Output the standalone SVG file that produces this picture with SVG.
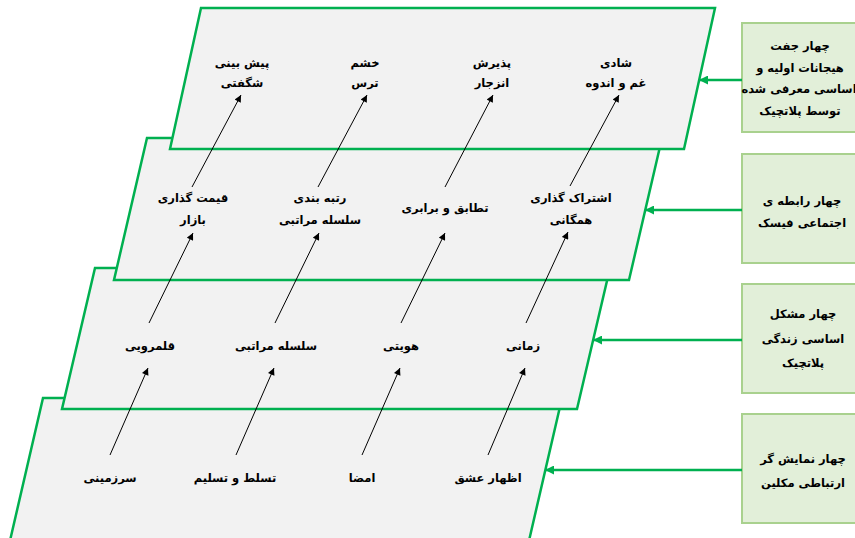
<svg xmlns="http://www.w3.org/2000/svg" width="855" height="538" viewBox="0 0 855 538">
<defs>
<style>
.layer{fill:#f2f2f2;stroke:#00b050;stroke-width:2.5;stroke-linejoin:miter}
.box{fill:#e2efd9;stroke:#a9d18e;stroke-width:2}
.lbl{font-family:"DejaVu Sans",sans-serif;font-size:11.5px;font-weight:bold;fill:#000;text-anchor:middle}
.btx{font-family:"DejaVu Sans",sans-serif;font-size:11.5px;font-weight:bold;fill:#000;text-anchor:middle}
.ar{stroke:#000;stroke-width:1;fill:none;marker-end:url(#ah)}
.gr{stroke:#00b050;stroke-width:2.5;fill:none;marker-end:url(#gh)}
</style>
<marker id="ah" viewBox="0 0 10 10" refX="10" refY="5" markerWidth="8" markerHeight="7" markerUnits="userSpaceOnUse" orient="auto">
<path d="M0,0 L10,5 L0,10 z" fill="#000"/>
</marker>
<marker id="gh" viewBox="0 0 10 10" refX="10" refY="5" markerWidth="10" markerHeight="9" markerUnits="userSpaceOnUse" orient="auto">
<path d="M0,0 L10,5 L0,10 z" fill="#00b050"/>
</marker>
</defs>

<g id="layer4">
<polygon class="layer" points="43,398 562,398 528,545 9,545"/>
<g id="l4-1"><text class="lbl" x="110" y="482">سرزمینی</text></g>
<g id="l4-2"><text class="lbl" x="235" y="482">تسلط و تسلیم</text></g>
<g id="l4-3"><text class="lbl" x="362" y="482">امضا</text></g>
<g id="l4-4"><text class="lbl" x="488" y="482">اظهار عشق</text></g>
</g>

<g id="layer3">
<polygon class="layer" points="95,268 610,268 577,409 62,409"/>
<g id="l3-1"><text class="lbl" x="150" y="350">قلمرویی</text></g>
<g id="l3-2"><text class="lbl" x="276" y="350">سلسله مراتبی</text></g>
<g id="l3-3"><text class="lbl" x="401" y="350">هویتی</text></g>
<g id="l3-4"><text class="lbl" x="523" y="350">زمانی</text></g>
</g>

<g id="layer2">
<polygon class="layer" points="147,138 662,138 629,280 114,280"/>
<g id="l2-1"><text class="lbl" x="193" y="202">قیمت گذاری</text><text class="lbl" x="193" y="224">بازار</text></g>
<g id="l2-2"><text class="lbl" x="320" y="202">رتبه بندی</text><text class="lbl" x="320" y="224">سلسله مراتبی</text></g>
<g id="l2-3"><text class="lbl" x="445" y="212">تطابق و برابری</text></g>
<g id="l2-4"><text class="lbl" x="571" y="202">اشتراک گذاری</text><text class="lbl" x="571" y="224">همگانی</text></g>
</g>

<g id="layer1">
<polygon class="layer" points="201,8 715,8 684,149 170,149"/>
<g id="l1-1"><text class="lbl" x="242" y="67">پیش بینی</text><text class="lbl" x="242" y="87">شگفتی</text></g>
<g id="l1-2"><text class="lbl" x="365" y="67">خشم</text><text class="lbl" x="365" y="87">ترس</text></g>
<g id="l1-3"><text class="lbl" x="492" y="67">پذیرش</text><text class="lbl" x="492" y="87">انزجار</text></g>
<g id="l1-4"><text class="lbl" x="616" y="67">شادی</text><text class="lbl" x="616" y="87">غم و اندوه</text></g>
</g>

<g id="box1">
<rect class="box" x="742" y="23" width="125" height="109"/>
<text class="btx" x="800" y="50">چهار جفت</text>
<text class="btx" x="800" y="72">هیجانات اولیه و</text>
<text class="btx" x="799" y="93">اساسی معرفی شده</text>
<text class="btx" x="800" y="115">توسط پلاتچیک</text>
</g>
<g id="box2">
<rect class="box" x="742" y="154" width="125" height="109"/>
<text class="btx" x="802" y="205">چهار رابطه ی</text>
<text class="btx" x="802" y="227">اجتماعی فیسک</text>
</g>
<g id="box3">
<rect class="box" x="742" y="284" width="125" height="109"/>
<text class="btx" x="803" y="318">چهار مشکل</text>
<text class="btx" x="803" y="343">اساسی زندگی</text>
<text class="btx" x="803" y="367">پلاتچیک</text>
</g>
<g id="box4">
<rect class="box" x="742" y="414" width="125" height="109"/>
<text class="btx" x="803" y="463">چهار نمایش گر</text>
<text class="btx" x="803" y="487">ارتباطی مکلین</text>
</g>

<g id="connectors">
<line class="ar" x1="192" y1="187" x2="241" y2="95"/>
<line class="ar" x1="318" y1="187" x2="367" y2="95"/>
<line class="ar" x1="445" y1="187" x2="493" y2="95"/>
<line class="ar" x1="570" y1="186" x2="619" y2="95"/>
<line class="ar" x1="149" y1="323" x2="193" y2="233"/>
<line class="ar" x1="275" y1="323" x2="319" y2="233"/>
<line class="ar" x1="401" y1="323" x2="445" y2="233"/>
<line class="ar" x1="526" y1="323" x2="568" y2="232"/>
<line class="ar" x1="110" y1="455" x2="148" y2="368"/>
<line class="ar" x1="236" y1="455" x2="274" y2="368"/>
<line class="ar" x1="362" y1="455" x2="400" y2="368"/>
<line class="ar" x1="488" y1="455" x2="525" y2="368"/>
<line class="gr" x1="742" y1="80" x2="699" y2="80"/>
<line class="gr" x1="742" y1="210" x2="645" y2="210"/>
<line class="gr" x1="742" y1="340" x2="593" y2="340"/>
<line class="gr" x1="742" y1="470" x2="545" y2="470"/>
</g>
</svg>
